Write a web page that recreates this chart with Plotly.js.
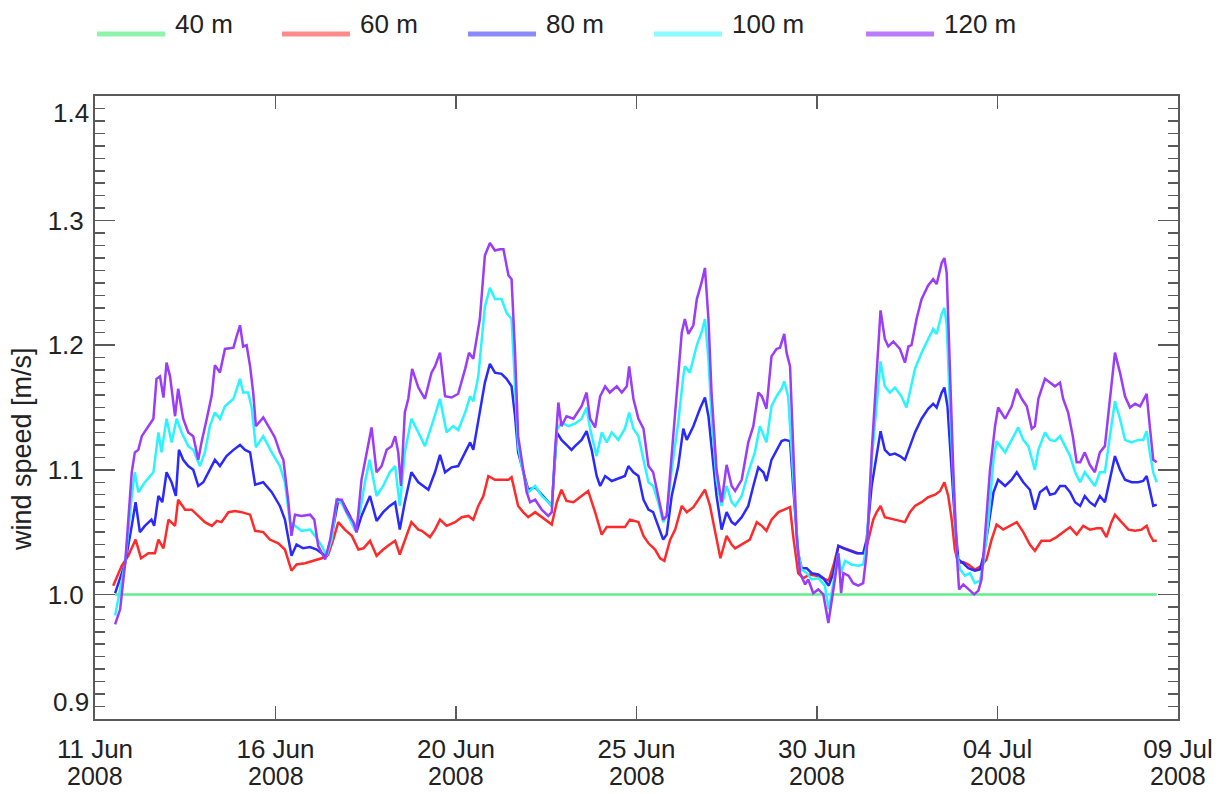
<!DOCTYPE html>
<html>
<head>
<meta charset="utf-8">
<script src="https://cdn.plot.ly/plotly-3.0.1.min.js"></script>
<style>
  html, body { margin: 0; padding: 0; background: #ffffff; }
  #chart { width: 1224px; height: 794px; }
</style>
</head>
<body>
<div id="chart"></div>
<script>
// ---- Data (time in days since 2008-06-11 00:00 UTC, values are wind speed normalised by 40 m) ----
const seriesNames = ["40 m", "60 m", "80 m", "100 m", "120 m"];

const t40 = [0.52, 27.45];
const v40 = [1.000, 1.000];

const t60 = [0.47,0.69,0.86,1.05,1.19,1.38,1.55,1.64,1.77,1.90,2.07,2.15,2.33,2.50,2.67,2.84,3.02,3.15,3.27,3.45,3.62,3.79,4.01,4.14,4.35,4.52,4.74,4.91,5.08,5.21,5.43,5.64,5.86,6.03,6.16,6.29,6.46,6.64,6.81,6.94,7.11,7.28,7.45,7.62,7.76,7.88,8.01,8.18,8.36,8.45,8.66,8.79,8.92,9.09,9.31,9.48,9.65,9.78,9.91,10.04,10.17,10.34,10.51,10.69,10.77,10.86,10.94,11.07,11.20,11.38,11.55,11.72,11.81,11.94,12.06,12.19,12.37,12.58,12.75,12.93,13.10,13.23,13.44,13.70,13.83,14.05,14.18,14.31,14.48,14.61,14.72,14.87,15.00,15.17,15.30,15.47,15.60,15.77,15.90,16.03,16.17,16.33,16.46,16.55,16.72,16.93,17.11,17.24,17.36,17.49,17.67,17.84,17.97,18.05,18.18,18.31,18.48,18.65,18.83,18.97,19.09,19.22,19.39,19.56,19.73,19.91,19.99,20.12,20.21,20.31,20.42,20.60,20.68,20.81,20.94,21.07,21.20,21.37,21.54,21.72,21.85,21.96,22.06,22.15,22.23,22.32,22.45,22.58,22.75,22.92,23.05,23.18,23.31,23.48,23.66,23.83,24.00,24.17,24.30,24.47,24.69,24.86,25.08,25.21,25.38,25.55,25.72,25.90,26.02,26.15,26.28,26.37,26.54,26.72,26.89,27.06,27.19,27.27,27.36,27.45];
const v60 = [1.007,1.023,1.031,1.044,1.029,1.033,1.033,1.044,1.037,1.060,1.055,1.076,1.068,1.068,1.063,1.058,1.055,1.059,1.058,1.066,1.067,1.066,1.064,1.051,1.050,1.044,1.041,1.036,1.019,1.024,1.025,1.027,1.029,1.032,1.044,1.058,1.052,1.047,1.036,1.037,1.043,1.031,1.036,1.040,1.043,1.032,1.044,1.058,1.052,1.051,1.046,1.052,1.060,1.055,1.058,1.062,1.063,1.060,1.071,1.079,1.095,1.092,1.092,1.092,1.094,1.082,1.071,1.066,1.062,1.066,1.062,1.058,1.056,1.074,1.084,1.075,1.074,1.079,1.083,1.066,1.048,1.054,1.054,1.054,1.060,1.058,1.047,1.041,1.036,1.029,1.027,1.044,1.052,1.071,1.066,1.070,1.076,1.084,1.071,1.052,1.029,1.047,1.040,1.037,1.040,1.044,1.058,1.055,1.051,1.060,1.066,1.068,1.070,1.047,1.017,1.013,1.016,1.015,1.013,1.011,1.023,1.039,1.037,1.035,1.033,1.033,1.044,1.060,1.066,1.071,1.062,1.061,1.060,1.059,1.058,1.066,1.071,1.074,1.078,1.080,1.083,1.090,1.079,1.060,1.036,1.025,1.026,1.024,1.020,1.023,1.028,1.044,1.056,1.052,1.055,1.058,1.050,1.040,1.035,1.043,1.043,1.046,1.051,1.054,1.048,1.055,1.052,1.053,1.053,1.046,1.058,1.064,1.058,1.052,1.051,1.052,1.055,1.048,1.043,1.043];

const t80 = [0.52,0.78,0.95,1.05,1.16,1.29,1.46,1.53,1.64,1.74,1.85,1.98,2.09,2.17,2.28,2.41,2.54,2.67,2.80,2.93,3.10,3.23,3.40,3.58,3.75,3.88,4.01,4.14,4.35,4.57,4.78,4.91,5.08,5.21,5.38,5.56,5.73,5.86,5.99,6.12,6.29,6.42,6.59,6.76,6.89,7.11,7.28,7.45,7.62,7.76,7.88,8.01,8.18,8.36,8.62,8.79,8.92,9.05,9.22,9.39,9.57,9.70,9.78,9.91,10.08,10.21,10.34,10.51,10.64,10.77,10.86,10.94,11.03,11.20,11.38,11.55,11.72,11.81,11.94,12.06,12.19,12.32,12.41,12.58,12.71,12.84,12.97,13.06,13.19,13.36,13.53,13.70,13.79,13.92,14.05,14.18,14.31,14.43,14.56,14.69,14.78,14.91,15.08,15.21,15.30,15.47,15.64,15.77,15.86,15.94,16.07,16.20,16.33,16.46,16.55,16.72,16.89,17.02,17.15,17.28,17.36,17.49,17.62,17.75,17.84,17.97,18.05,18.18,18.27,18.40,18.53,18.70,18.83,18.97,19.09,19.22,19.35,19.52,19.69,19.86,19.95,20.08,20.21,20.31,20.42,20.55,20.68,20.81,20.94,21.07,21.20,21.37,21.54,21.67,21.76,21.89,21.96,22.04,22.15,22.23,22.32,22.45,22.58,22.75,22.88,22.97,23.10,23.23,23.35,23.53,23.70,23.83,24.00,24.17,24.30,24.43,24.60,24.69,24.82,24.95,25.08,25.21,25.34,25.47,25.59,25.72,25.85,25.98,26.11,26.24,26.37,26.50,26.63,26.80,26.97,27.10,27.19,27.27,27.36,27.45];
const v80 = [1.001,1.025,1.055,1.074,1.050,1.055,1.060,1.055,1.079,1.074,1.098,1.090,1.079,1.116,1.108,1.103,1.100,1.087,1.090,1.098,1.108,1.103,1.111,1.116,1.120,1.116,1.114,1.088,1.090,1.082,1.071,1.060,1.031,1.040,1.037,1.038,1.036,1.033,1.031,1.047,1.076,1.073,1.063,1.050,1.063,1.079,1.059,1.066,1.071,1.074,1.052,1.074,1.098,1.090,1.084,1.098,1.112,1.098,1.102,1.103,1.114,1.122,1.116,1.141,1.170,1.185,1.178,1.177,1.173,1.167,1.143,1.114,1.103,1.084,1.086,1.080,1.074,1.071,1.130,1.124,1.120,1.116,1.119,1.124,1.131,1.116,1.095,1.087,1.095,1.091,1.093,1.095,1.103,1.098,1.095,1.076,1.068,1.066,1.055,1.044,1.048,1.079,1.103,1.133,1.124,1.135,1.149,1.158,1.143,1.119,1.079,1.052,1.066,1.058,1.056,1.062,1.071,1.087,1.102,1.098,1.091,1.108,1.116,1.123,1.124,1.123,1.087,1.033,1.021,1.021,1.017,1.016,1.013,1.007,1.017,1.039,1.037,1.035,1.033,1.033,1.044,1.087,1.114,1.131,1.116,1.112,1.113,1.111,1.108,1.119,1.130,1.141,1.149,1.153,1.150,1.162,1.166,1.151,1.100,1.060,1.028,1.025,1.021,1.019,1.020,1.031,1.055,1.082,1.092,1.087,1.092,1.098,1.090,1.084,1.068,1.082,1.086,1.080,1.081,1.087,1.087,1.082,1.074,1.071,1.079,1.074,1.071,1.079,1.074,1.092,1.111,1.100,1.092,1.090,1.090,1.091,1.095,1.084,1.071,1.072];

const t100 = [0.52,0.78,0.95,1.03,1.12,1.29,1.51,1.64,1.72,1.85,1.98,2.11,2.24,2.41,2.54,2.71,2.84,2.97,3.10,3.23,3.36,3.58,3.75,3.83,3.96,4.05,4.16,4.35,4.57,4.78,4.91,5.04,5.17,5.34,5.56,5.69,5.86,5.99,6.12,6.25,6.38,6.55,6.72,6.85,6.98,7.10,7.28,7.45,7.62,7.76,7.88,8.01,8.18,8.36,8.53,8.70,8.92,9.09,9.26,9.39,9.57,9.70,9.78,9.91,10.08,10.21,10.34,10.51,10.64,10.77,10.86,10.94,11.03,11.20,11.38,11.55,11.72,11.81,11.94,12.06,12.24,12.41,12.58,12.71,12.80,12.97,13.10,13.23,13.36,13.53,13.70,13.81,13.92,14.05,14.18,14.31,14.43,14.56,14.69,14.78,14.91,15.08,15.21,15.25,15.38,15.56,15.68,15.77,15.86,15.94,16.07,16.20,16.33,16.46,16.55,16.72,16.89,17.06,17.19,17.36,17.49,17.62,17.75,17.82,17.92,18.05,18.18,18.27,18.40,18.53,18.70,18.87,18.97,19.09,19.22,19.29,19.39,19.56,19.73,19.86,19.95,20.08,20.21,20.31,20.42,20.55,20.68,20.85,20.98,21.07,21.20,21.37,21.54,21.67,21.76,21.89,21.96,22.02,22.10,22.19,22.28,22.37,22.49,22.62,22.75,22.88,22.97,23.10,23.23,23.31,23.53,23.70,23.87,24.00,24.13,24.23,24.30,24.39,24.56,24.69,24.82,24.95,25.08,25.21,25.34,25.47,25.59,25.72,25.85,25.98,26.11,26.24,26.37,26.50,26.63,26.80,26.97,27.10,27.19,27.27,27.36,27.45];
const v100 = [0.983,1.025,1.079,1.098,1.082,1.090,1.098,1.130,1.114,1.141,1.122,1.141,1.130,1.119,1.116,1.103,1.114,1.135,1.146,1.141,1.151,1.157,1.173,1.162,1.162,1.150,1.118,1.127,1.114,1.103,1.090,1.058,1.055,1.051,1.052,1.047,1.039,1.031,1.044,1.076,1.073,1.063,1.052,1.066,1.090,1.108,1.079,1.087,1.098,1.103,1.071,1.114,1.141,1.130,1.119,1.135,1.157,1.130,1.135,1.132,1.146,1.159,1.155,1.175,1.231,1.246,1.237,1.237,1.226,1.221,1.167,1.119,1.103,1.082,1.087,1.079,1.074,1.071,1.132,1.138,1.135,1.137,1.141,1.150,1.133,1.111,1.130,1.122,1.130,1.124,1.133,1.146,1.133,1.127,1.108,1.090,1.087,1.074,1.058,1.063,1.100,1.138,1.175,1.183,1.178,1.200,1.210,1.221,1.189,1.143,1.092,1.071,1.087,1.074,1.071,1.079,1.098,1.114,1.135,1.122,1.151,1.159,1.165,1.171,1.159,1.100,1.033,1.020,1.017,1.012,1.013,1.007,0.988,1.009,1.033,1.017,1.027,1.024,1.023,1.024,1.039,1.108,1.154,1.187,1.167,1.162,1.166,1.159,1.150,1.162,1.181,1.194,1.205,1.213,1.209,1.225,1.230,1.216,1.154,1.087,1.033,1.020,1.015,1.017,1.009,1.011,1.025,1.060,1.108,1.123,1.114,1.124,1.134,1.124,1.119,1.108,1.100,1.116,1.130,1.124,1.123,1.127,1.119,1.111,1.098,1.090,1.098,1.092,1.087,1.098,1.098,1.127,1.155,1.141,1.124,1.122,1.124,1.124,1.131,1.114,1.098,1.090];

const t120 = [0.52,0.65,0.78,0.95,1.03,1.12,1.21,1.38,1.51,1.59,1.68,1.77,1.85,1.94,2.07,2.15,2.28,2.41,2.54,2.67,2.76,2.89,3.02,3.10,3.23,3.36,3.58,3.66,3.75,3.83,3.92,4.01,4.09,4.16,4.35,4.52,4.65,4.78,4.87,5.00,5.08,5.17,5.34,5.56,5.67,5.77,5.95,6.08,6.25,6.38,6.51,6.68,6.76,6.89,7.02,7.15,7.28,7.41,7.54,7.67,7.76,7.84,7.91,8.01,8.10,8.20,8.36,8.53,8.70,8.79,8.92,9.05,9.22,9.39,9.57,9.67,9.78,9.87,9.95,10.08,10.21,10.34,10.47,10.56,10.69,10.77,10.86,10.94,11.03,11.16,11.25,11.38,11.55,11.72,11.81,11.89,11.98,12.06,12.19,12.37,12.58,12.71,12.80,12.93,13.06,13.19,13.31,13.49,13.62,13.75,13.81,13.92,14.05,14.18,14.31,14.43,14.56,14.69,14.78,14.91,15.04,15.17,15.25,15.34,15.47,15.56,15.68,15.77,15.86,15.94,16.07,16.20,16.33,16.46,16.55,16.72,16.89,17.02,17.15,17.24,17.36,17.49,17.62,17.71,17.82,17.88,17.97,18.05,18.14,18.23,18.36,18.44,18.57,18.70,18.83,18.96,19.04,19.13,19.22,19.29,19.35,19.48,19.60,19.73,19.86,19.95,20.08,20.21,20.31,20.42,20.51,20.64,20.81,20.94,21.03,21.11,21.24,21.37,21.54,21.67,21.76,21.89,21.96,22.02,22.10,22.19,22.28,22.34,22.45,22.58,22.73,22.84,22.92,23.01,23.14,23.27,23.35,23.53,23.70,23.83,23.96,24.09,24.22,24.30,24.39,24.56,24.69,24.82,24.95,25.03,25.16,25.28,25.38,25.47,25.59,25.72,25.85,25.98,26.11,26.24,26.37,26.50,26.63,26.76,26.89,27.02,27.19,27.27,27.36,27.45];
const v120 = [0.976,0.988,1.025,1.098,1.114,1.116,1.127,1.135,1.141,1.173,1.175,1.158,1.186,1.175,1.143,1.165,1.141,1.130,1.127,1.108,1.123,1.141,1.160,1.184,1.178,1.197,1.198,1.207,1.216,1.199,1.200,1.183,1.162,1.135,1.142,1.133,1.126,1.114,1.108,1.074,1.047,1.064,1.063,1.064,1.060,1.039,1.028,1.044,1.076,1.076,1.066,1.058,1.050,1.092,1.114,1.134,1.098,1.103,1.116,1.119,1.127,1.114,1.087,1.146,1.157,1.181,1.166,1.157,1.178,1.183,1.194,1.159,1.158,1.161,1.181,1.194,1.189,1.205,1.221,1.272,1.282,1.276,1.277,1.277,1.256,1.253,1.194,1.127,1.108,1.082,1.074,1.076,1.068,1.063,1.066,1.114,1.154,1.135,1.143,1.141,1.151,1.162,1.141,1.134,1.159,1.167,1.162,1.167,1.162,1.167,1.183,1.157,1.141,1.133,1.103,1.098,1.079,1.060,1.063,1.114,1.162,1.210,1.221,1.209,1.216,1.237,1.250,1.262,1.221,1.162,1.100,1.074,1.104,1.087,1.083,1.092,1.122,1.135,1.162,1.159,1.149,1.191,1.197,1.198,1.209,1.194,1.183,1.114,1.047,1.017,1.008,1.012,1.001,1.004,1.000,0.977,0.993,1.012,1.033,1.001,1.017,1.015,1.009,1.007,1.009,1.033,1.114,1.181,1.228,1.205,1.199,1.203,1.197,1.186,1.199,1.200,1.221,1.237,1.248,1.253,1.249,1.266,1.270,1.258,1.181,1.100,1.033,1.004,1.008,1.004,1.000,1.003,1.012,1.047,1.100,1.135,1.150,1.141,1.151,1.165,1.157,1.151,1.133,1.135,1.157,1.173,1.170,1.167,1.170,1.157,1.146,1.127,1.106,1.106,1.114,1.104,1.098,1.114,1.119,1.154,1.194,1.178,1.159,1.150,1.153,1.151,1.161,1.135,1.108,1.106];

// x-axis ticks (days since 11 Jun 2008) and their labels
const tickDays = [0, 4.6667, 9.3333, 14, 18.6667, 23.3333, 28];
const tickText = ["11 Jun", "16 Jun", "20 Jun", "25 Jun", "30 Jun", "04 Jul", "09 Jul"];
const tickYear = ["2008", "2008", "2008", "2008", "2008", "2008", "2008"];
const xRangeDays = [0, 28];
const yRange = [0.9, 1.4];
const yTickVals = [0.9, 1.0, 1.1, 1.2, 1.3, 1.4];
const yTitle = "wind speed [m/s]";

// ---- Styling ----
const lineColors   = ["#62ee8c", "#ff2a2a", "#2a2aff", "#2af4ff", "#9a3cf8"];
const legendColors = ["#8ef4aa", "#ff8a8a", "#8a8aff", "#8afcff", "#bb7cfb"];
const FONT = "'Liberation Sans', Arial, sans-serif";
const FS = 26;
const TXT = "#222222";
const AXC = "#5a5a5a";

const BASE = Date.UTC(2008, 5, 11, 0, 0, 0);
function toDate(d) {
  return new Date(BASE + d * 86400000).toISOString().slice(0, 19).replace("T", " ");
}

const times = [t40, t60, t80, t100, t120];
const vals  = [v40, v60, v80, v100, v120];

const traces = seriesNames.map((name, i) => ({
  type: "scatter",
  mode: "lines",
  name: name,
  x: times[i].map(toDate),
  y: vals[i],
  line: { color: lineColors[i], width: 2.5 },
  showlegend: false,
  hoverinfo: "x+y+name"
}));

// pixel geometry of plot area
const W = 1224, H = 794;
const L = 95, R = 1178, T = 96, B = 719;
const px2paperX = p => (p - L) / (R - L);
const px2paperY = p => (B - p) / (B - T);

// legend drawn across the top
const legendLineX = [97, 282, 468, 654, 866];
const legendLineLen = 68;
const legendY = 34;
const shapes = [];
const annotations = [];
seriesNames.forEach((name, i) => {
  shapes.push({
    type: "line", xref: "paper", yref: "paper",
    x0: px2paperX(legendLineX[i]), x1: px2paperX(legendLineX[i] + legendLineLen),
    y0: px2paperY(legendY), y1: px2paperY(legendY),
    line: { color: legendColors[i], width: 5 }
  });
  annotations.push({
    xref: "paper", yref: "paper",
    x: px2paperX(legendLineX[i] + legendLineLen + 8), y: px2paperY(legendY + 7),
    xanchor: "left", yanchor: "bottom",
    text: name, showarrow: false,
    font: { family: FONT, size: FS, color: TXT }
  });
});

// second line of x tick labels (year)
tickDays.forEach((d, i) => {
  annotations.push({
    xref: "x", yref: "paper",
    x: toDate(d), y: px2paperY(776),
    xanchor: "center", yanchor: "middle",
    text: tickYear[i], showarrow: false,
    font: { family: FONT, size: FS - 1, color: TXT }
  });
});

// y labels at the two ends of the axis are kept inside the frame (as in the reference)
const yEnds = [yRange[0], yRange[1]];
yEnds.forEach((v, i) => {
  annotations.push({
    xref: "paper", yref: "y",
    x: 0, y: v, xshift: -4,
    xanchor: "right", yanchor: i === 0 ? "bottom" : "top",
    text: v.toFixed(1), showarrow: false,
    font: { family: FONT, size: FS, color: TXT }
  });
});

// y-axis title
annotations.push({
  xref: "paper", yref: "paper",
  x: px2paperX(22), y: px2paperY(449),
  xanchor: "center", yanchor: "middle",
  textangle: -90,
  text: yTitle, showarrow: false,
  font: { family: FONT, size: 27, color: TXT }
});

const layout = {
  width: W, height: H,
  margin: { l: L, r: W - R, t: T, b: H - B, pad: 0 },
  paper_bgcolor: "#ffffff",
  plot_bgcolor: "#ffffff",
  showlegend: false,
  font: { family: FONT, color: TXT },
  xaxis: {
    type: "date",
    range: xRangeDays.map(toDate),
    tickmode: "array",
    tickvals: tickDays.map(toDate),
    ticktext: tickText,
    ticks: "inside",
    ticklen: 13,
    tickwidth: 1.5,
    tickcolor: AXC,
    showline: true,
    linecolor: AXC,
    linewidth: 2,
    mirror: "ticks",
    showgrid: false,
    zeroline: false,
    tickfont: { family: FONT, size: FS, color: TXT },
    ticklabelstandoff: 6
  },
  yaxis: {
    range: yRange,
    tickmode: "array",
    tickvals: yTickVals,
    ticktext: yTickVals.map(v => (v === yRange[0] || v === yRange[1]) ? "" : v.toFixed(1)),
    ticks: "inside",
    ticklen: 20,
    tickwidth: 1.5,
    tickcolor: AXC,
    minor: { dtick: 0.01, tick0: 0.9, ticks: "inside", ticklen: 10, tickwidth: 1.5, tickcolor: AXC, showgrid: false },
    showline: true,
    linecolor: AXC,
    linewidth: 2,
    mirror: "ticks",
    showgrid: false,
    zeroline: false,
    tickfont: { family: FONT, size: FS, color: TXT },
    ticklabelstandoff: 4
  },
  shapes: shapes,
  annotations: annotations
};

Plotly.newPlot("chart", traces, layout, { displayModeBar: false, staticPlot: true });
</script>
</body>
</html>
